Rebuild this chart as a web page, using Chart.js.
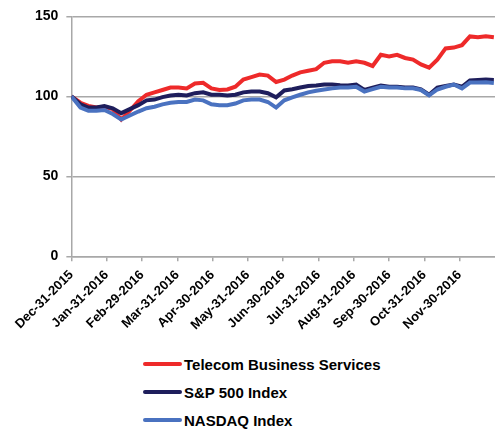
<!DOCTYPE html>
<html>
<head>
<meta charset="utf-8">
<script src="https://cdn.jsdelivr.net/npm/chart.js@4"></script>
<style>
  body { margin: 0; background: #fff; font-family: "Liberation Sans", Arial, sans-serif; }
  #wrap { position: relative; width: 495px; height: 339px; }
  #legend { position: absolute; left: 143px; top: 350px; }
  .item { height: 28px; display: flex; align-items: center; font-weight: bold; font-size: 15px; color: #000; }
  .swatch { width: 39px; height: 4px; border-radius: 2px; margin-right: 2px; }
</style>
</head>
<body>
<div id="wrap"><canvas id="myChart" width="495" height="339"></canvas></div>
<div id="legend"></div>
<script>
// weekly closes, indexed to 100 at Dec-31-2015
const dates = ['2015-12-31',
  '2016-01-08','2016-01-15','2016-01-22','2016-01-29',
  '2016-02-05','2016-02-12','2016-02-19','2016-02-26',
  '2016-03-04','2016-03-11','2016-03-18','2016-03-25',
  '2016-04-01','2016-04-08','2016-04-15','2016-04-22','2016-04-29',
  '2016-05-06','2016-05-13','2016-05-20','2016-05-27',
  '2016-06-03','2016-06-10','2016-06-17','2016-06-24',
  '2016-07-01','2016-07-08','2016-07-15','2016-07-22','2016-07-29',
  '2016-08-05','2016-08-12','2016-08-19','2016-08-26',
  '2016-09-02','2016-09-09','2016-09-16','2016-09-23','2016-09-30',
  '2016-10-07','2016-10-14','2016-10-21','2016-10-28',
  '2016-11-04','2016-11-11','2016-11-18','2016-11-25',
  '2016-12-02','2016-12-09','2016-12-16','2016-12-23','2016-12-30'];

const telecom = [100,
  96, 94, 93, 93.5,
  92, 85.5, 91, 97,
  101, 102.5, 104, 105.5,
  105.5, 105, 108, 108.5, 105,
  104, 104.3, 106, 110.5,
  112, 113.6, 113, 109,
  110.5, 113, 115, 116, 117,
  121, 122, 122, 121,
  122, 121, 119, 126, 125,
  126, 124, 123, 120,
  118, 123, 130, 130.5,
  132, 137.5, 137, 137.6, 137];

const sp500 = [100,
  95, 93, 93, 94,
  92.5, 89.5, 92, 94.5,
  97.5, 98, 99.5, 100.5,
  101, 100.6, 102, 102.5, 101,
  101, 100.5, 101, 102.5,
  103, 103, 102, 99.4,
  103.7, 104.5, 105.5, 106.5, 106.8,
  107.4, 107.4, 107, 106.8,
  107.4, 104, 105.5, 106.8, 106,
  106, 105.5, 105.5, 104.3,
  101, 105.5, 106.5, 107.4,
  106, 110, 110.3, 110.5, 110.3];

const nasdaq = [100,
  93, 91, 91, 91.5,
  89, 85.5, 88, 90.5,
  92.6, 93.5, 95, 96,
  96.5, 96.5, 98, 97.5, 95,
  94.5, 94.4, 95.5, 97.5,
  98, 98, 96.5, 93,
  97.5, 99.4, 101, 102.5, 103.5,
  104.3, 105, 105.5, 105.5,
  106, 103, 104.5, 106, 105.5,
  105.5, 105, 105, 104,
  100.6, 104.3, 106, 107.4,
  105, 108.6, 108.6, 108.8, 108.3];

const tickLabels = ['Dec-31-2015','Jan-31-2016','Feb-29-2016','Mar-31-2016','Apr-30-2016',
  'May-31-2016','Jun-30-2016','Jul-31-2016','Aug-31-2016','Sep-30-2016','Oct-31-2016','Nov-30-2016'];

const seriesNames = ['Telecom Business Services', 'S&P 500 Index', 'NASDAQ Index'];
const seriesColors = ['#ee2a2a', '#1e1e5c', '#4a72c0'];

// month position: each month-end is one unit, Dec-31-2015 = 0
function monthPos(s) {
  const [y, m, d] = s.split('-').map(Number);
  const days = new Date(y, m, 0).getDate();
  return (y - 2016) * 12 + (m - 1) + d / days;
}
const xs = dates.map(monthPos);
const toPoints = arr => arr.map((v, i) => ({ x: xs[i], y: v }));

const font = { family: '"Liberation Sans", Arial, sans-serif', weight: 'bold', size: 13 };
const axisGray = '#a8a8a8';

const ctx = document.getElementById('myChart');
new Chart(ctx, {
  type: 'line',
  data: {
    datasets: [telecom, sp500, nasdaq].map((arr, i) => ({
      label: seriesNames[i],
      data: toPoints(arr),
      borderColor: seriesColors[i],
      backgroundColor: seriesColors[i],
      borderWidth: 4,
      pointRadius: 0,
      tension: 0,
      order: 3 - i   // later series drawn on top
    }))
  },
  options: {
    responsive: false,
    animation: false,
    layout: { padding: { left: 27, right: 0, top: 1, bottom: 0 } },
    scales: {
      x: {
        type: 'linear',
        min: 0,
        max: 12,
        afterBuildTicks: axis => { axis.ticks = tickLabels.map((t, i) => ({ value: i })); },
        ticks: {
          autoSkip: false,
          minRotation: 45,
          maxRotation: 45,
          padding: 6,
          color: '#000',
          font: font,
          callback: v => tickLabels[v] ?? ''
        },
        grid: { drawOnChartArea: false, tickLength: 5, color: axisGray, lineWidth: 1.5 },
        border: { color: axisGray, width: 1.5 }
      },
      y: {
        min: 0,
        max: 150,
        ticks: { stepSize: 50, color: '#000', font: { ...font, size: 14 }, padding: 8 },
        grid: { color: axisGray, lineWidth: 1.5, tickLength: 5 },
        border: { color: axisGray, width: 1.5 }
      }
    },
    plugins: {
      legend: { display: false },
      tooltip: { enabled: false }
    }
  }
});

// legend below the chart, one entry per row
const legend = document.getElementById('legend');
seriesNames.forEach((name, i) => {
  const row = document.createElement('div');
  row.className = 'item';
  const sw = document.createElement('span');
  sw.className = 'swatch';
  sw.style.background = seriesColors[i];
  row.appendChild(sw);
  row.appendChild(document.createTextNode(name));
  legend.appendChild(row);
});
</script>
</body>
</html>
